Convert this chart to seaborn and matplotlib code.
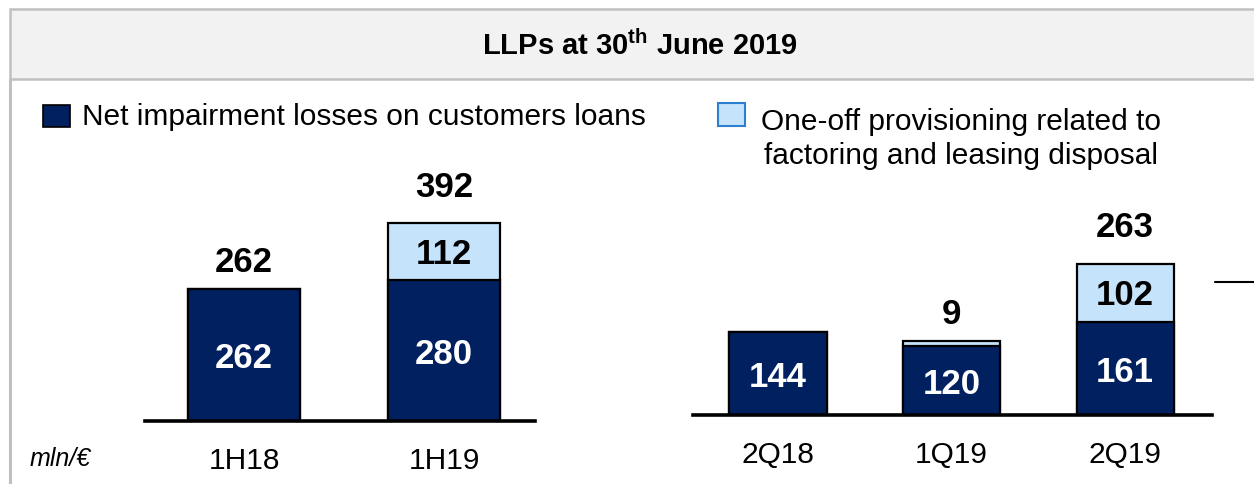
import matplotlib
matplotlib.use("Agg")
import matplotlib.pyplot as plt
import seaborn as sns
import pandas as pd
from matplotlib.patches import Rectangle
from matplotlib.lines import Line2D

# ─────────────────────────────────────────────
# DATA  (mln/€)
# ─────────────────────────────────────────────
left_cats    = ["1H18", "1H19"]
left_net     = [262, 280]
left_oneoff  = [0, 112]
left_top     = ["262", "392"]

right_cats   = ["2Q18", "1Q19", "2Q19"]
right_net    = [144, 120, 161]
right_oneoff = [0, 9, 102]
right_top    = ["", "9", "263"]

title_text   = r"LLPs at 30$^{\mathbf{th}}$ June 2019"
legend_net   = "Net impairment losses on customers loans"
legend_one   = "One-off provisioning related to\nfactoring and leasing disposal"
unit_text    = "mln/€"

DARK  = "#002060"
LIGHT = "#c5e4fb"

# ─────────────────────────────────────────────
# Style
# ─────────────────────────────────────────────
sns.set_theme(style="white")
plt.rcParams["font.family"] = ["Liberation Sans", "DejaVu Sans"]
plt.rcParams["mathtext.fontset"] = "custom"
plt.rcParams["mathtext.rm"] = "Liberation Sans"
plt.rcParams["mathtext.bf"] = "Liberation Sans:bold"
plt.rcParams["text.color"] = "black"
plt.rcParams["xtick.color"] = "black"
plt.rcParams["xtick.labelcolor"] = "black"

W, H = 1254, 485
fig = plt.figure(figsize=(W / 100, H / 100), dpi=100)


def fx(px):
    return px / W


def fy(py):
    return 1 - py / H


# header band + frame lines
fig.patches.append(Rectangle((fx(10), fy(80)), 1.0, fy(10) - fy(80),
                             transform=fig.transFigure, facecolor="#f2f2f2",
                             edgecolor="#c0c0c0", lw=1.8, zorder=0))
fig.add_artist(Line2D([fx(10), fx(10)], [fy(80), 0], transform=fig.transFigure,
                      color="#c0c0c0", lw=2.2))
fig.text(fx(640), fy(46), title_text, ha="center", va="center",
         fontsize=21, fontweight="bold")

# legend
fig.patches.append(Rectangle((fx(43), fy(128)), fx(27), 22 / H, transform=fig.transFigure,
                             facecolor=DARK, edgecolor="#000000", lw=1.2))
fig.text(fx(82), fy(117), legend_net, ha="left", va="center", fontsize=21.5)
fig.patches.append(Rectangle((fx(718), fy(127)), fx(27), 23 / H, transform=fig.transFigure,
                             facecolor=LIGHT, edgecolor="#2e7fd0", lw=1.5))
fig.text(fx(961), fy(139), legend_one, ha="center", va="center", fontsize=21.5,
         multialignment="center", linespacing=1.3)

fig.text(fx(30), fy(459), unit_text, ha="left", va="center", fontsize=18, style="italic")
fig.add_artist(Line2D([fx(1215), 1.0], [fy(283), fy(283)], transform=fig.transFigure,
                      color="black", lw=1.5))


def draw_panel(ax, cats, net, oneoff, top, ymax, xlim):
    df = pd.DataFrame({"cat": cats, "net": net,
                       "total": [a + b for a, b in zip(net, oneoff)]})
    sns.barplot(data=df, x="cat", y="total", order=cats, color=LIGHT, saturation=1,
                edgecolor="black", linewidth=1.6, width=0.56, ax=ax)
    sns.barplot(data=df, x="cat", y="net", order=cats, color=DARK, saturation=1,
                edgecolor="black", linewidth=1.6, width=0.56, ax=ax)
    for i, (n, o) in enumerate(zip(net, oneoff)):
        ax.annotate(str(n), (i, n / 2), xytext=(0, -2), textcoords="offset points",
                    ha="center", va="center", fontsize=25, fontweight="bold", color="white")
        if o >= 30:
            ax.annotate(str(o), (i, n + o / 2), xytext=(0, -1), textcoords="offset points",
                        ha="center", va="center", fontsize=25, fontweight="bold", color="black")
        # total / one-off label above the bar (sits higher over stacked bars)
        ax.annotate(top[i], (i, n + o), xytext=(0, 15 if o >= 30 else 8),
                    textcoords="offset points", ha="center", va="bottom",
                    fontsize=25, fontweight="bold", color="black")
    ax.set_ylim(0, ymax)
    ax.set_xlim(*xlim)
    ax.set_xlabel("")
    ax.set_ylabel("")
    ax.set_yticks([])
    for s in ["top", "left", "right"]:
        ax.spines[s].set_visible(False)
    ax.spines["bottom"].set_color("black")
    ax.spines["bottom"].set_linewidth(2.6)
    ax.tick_params(axis="x", length=0, pad=18, labelsize=21.5, labelcolor="black")
    ax.patch.set_alpha(0)


ax1 = fig.add_axes([fx(145), fy(422), fx(390), 252 / H])
draw_panel(ax1, left_cats, left_net, left_oneoff, left_top, 500, (-0.495, 1.455))

ax2 = fig.add_axes([fx(693), fy(416), fx(519), 230 / H])
draw_panel(ax2, right_cats, right_net, right_oneoff, right_top, 400, (-0.49, 2.5))

plt.savefig("out.png", dpi=100)
plt.close()
